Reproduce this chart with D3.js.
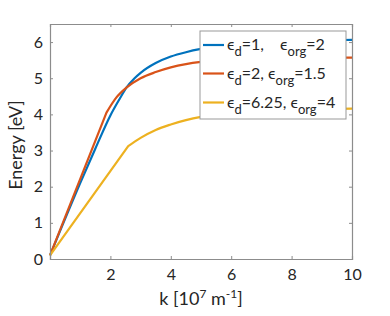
<!DOCTYPE html>
<html><head><meta charset="utf-8">
<script src="https://cdn.jsdelivr.net/npm/d3@7"></script>
<style>body{margin:0;background:#fff}svg{display:block}text{font-family:Lato,"Open Sans",sans-serif}</style>
</head><body>
<script>
const blueK = [0,1.0,1.5,2.0,2.3,2.53,2.8,3.0,3.5,4.0,4.5,5.0,6,7,8,9,10];
const blueE = [0.1,2.1,3.05,3.97,4.42,4.74,5.0,5.15,5.42,5.6,5.72,5.81,5.92,5.99,6.03,6.05,6.06];
const redK = [0,1.87,2.2,2.53,3.0,3.5,4.0,4.5,5.0,6,7,8,9,10];
const redE = [0.1,4.05,4.47,4.74,5.0,5.17,5.3,5.39,5.45,5.51,5.54,5.56,5.57,5.57];
const yelK = [0,2.59,3.0,3.5,4.0,4.5,5.0,6,7,8,9,10];
const yelE = [0.1,3.12,3.35,3.57,3.72,3.84,3.93,4.03,4.09,4.12,4.15,4.16];
const xTicks = [2,4,6,8,10];
const yTicks = [0,1,2,3,4,5,6];
const colors = ["#0072BD","#D95319","#EDB120"];
const legendD = ["1,\u2003", "2,", "6.25,"];
const legendOrg = ["2","1.5","4"];

const W=390,H=316, L=50,T=24,R=352,B=259;
const svg=d3.select("body").append("svg").attr("width",W).attr("height",H);
const x=d3.scaleLinear().domain([0,10]).range([L,R]);
const y=d3.scaleLinear().domain([0,6.5]).range([B,T]);
const ax="#8c8c8c";

const series=[[blueK,blueE,false],[redK,redE,true],[yelK,yelE,true]];
const smooth=d3.line().x(d=>x(d[0])).y(d=>y(d[1])).curve(d3.curveMonotoneX);
series.forEach((s,i)=>{
  const pts=s[0].map((k,j)=>[k,s[1][j]]);
  let d;
  if(s[2]){
    // straight first segment up to the kink, smooth afterwards
    const rest=smooth(pts.slice(1));
    d=`M${x(pts[0][0])},${y(pts[0][1])}L`+rest.slice(1);
  } else d=smooth(pts);
  svg.append("path").attr("d",d).attr("fill","none").attr("stroke",colors[i]).attr("stroke-width",2.2).attr("stroke-linejoin","round");
});

// axes
const gB=svg.append("g").attr("transform",`translate(0,${B})`).call(d3.axisBottom(x).tickValues(xTicks).tickSize(-3).tickPadding(10).tickFormat(d3.format("d")));
const gT=svg.append("g").attr("transform",`translate(0,${T})`).call(d3.axisTop(x).tickValues(xTicks).tickSize(-3).tickFormat(""));
const gL=svg.append("g").attr("transform",`translate(${L},0)`).call(d3.axisLeft(y).tickValues(yTicks).tickSize(-3).tickPadding(7).tickFormat(d3.format("d")));
const gR=svg.append("g").attr("transform",`translate(${R},0)`).call(d3.axisRight(y).tickValues(yTicks).tickSize(-3).tickFormat(""));
[gB,gT,gL,gR].forEach(g=>{
  g.select(".domain").attr("stroke",ax).attr("stroke-width",1.2);
  g.selectAll(".tick line").attr("stroke",ax);
  g.selectAll(".tick text").attr("fill","#262626").attr("font-size",16).attr("font-family","Lato,'Open Sans',sans-serif");
});

// axis titles
const xt=svg.append("text").attr("x",201).attr("y",305).attr("text-anchor","middle").attr("font-size",18).attr("fill","#262626");
xt.append("tspan").text("k [10");
xt.append("tspan").attr("dy",-7).attr("font-size",12).text("7");
xt.append("tspan").attr("dy",7).text(" m");
xt.append("tspan").attr("dy",-7).attr("font-size",12).text("-1");
xt.append("tspan").attr("dy",7).text("]");
svg.append("text").attr("transform","translate(22,145) rotate(-90)").attr("text-anchor","middle").attr("font-size",18).attr("fill","#262626").text("Energy [eV]");

// legend
const lg=svg.append("g");
lg.append("rect").attr("x",200).attr("y",31).attr("width",146).attr("height",88).attr("fill","#fff").attr("stroke","#999").attr("stroke-width",1);
const rowsY=[45,73.5,102.5];
rowsY.forEach((ry,i)=>{
  lg.append("line").attr("x1",203).attr("x2",224).attr("y1",ry).attr("y2",ry).attr("stroke",colors[i]).attr("stroke-width",2.2);
  const t=lg.append("text").attr("x",227).attr("y",ry+5).attr("font-size",16).attr("fill","#262626");
  t.append("tspan").text("\u03F5");
  t.append("tspan").attr("dy",6).attr("font-size",13).text("d");
  t.append("tspan").attr("dy",-6).text("="+legendD[i]+" \u03F5");
  t.append("tspan").attr("dy",6).attr("font-size",13).text("org");
  t.append("tspan").attr("dy",-6).text("="+legendOrg[i]);
});
</script>
</body></html>
